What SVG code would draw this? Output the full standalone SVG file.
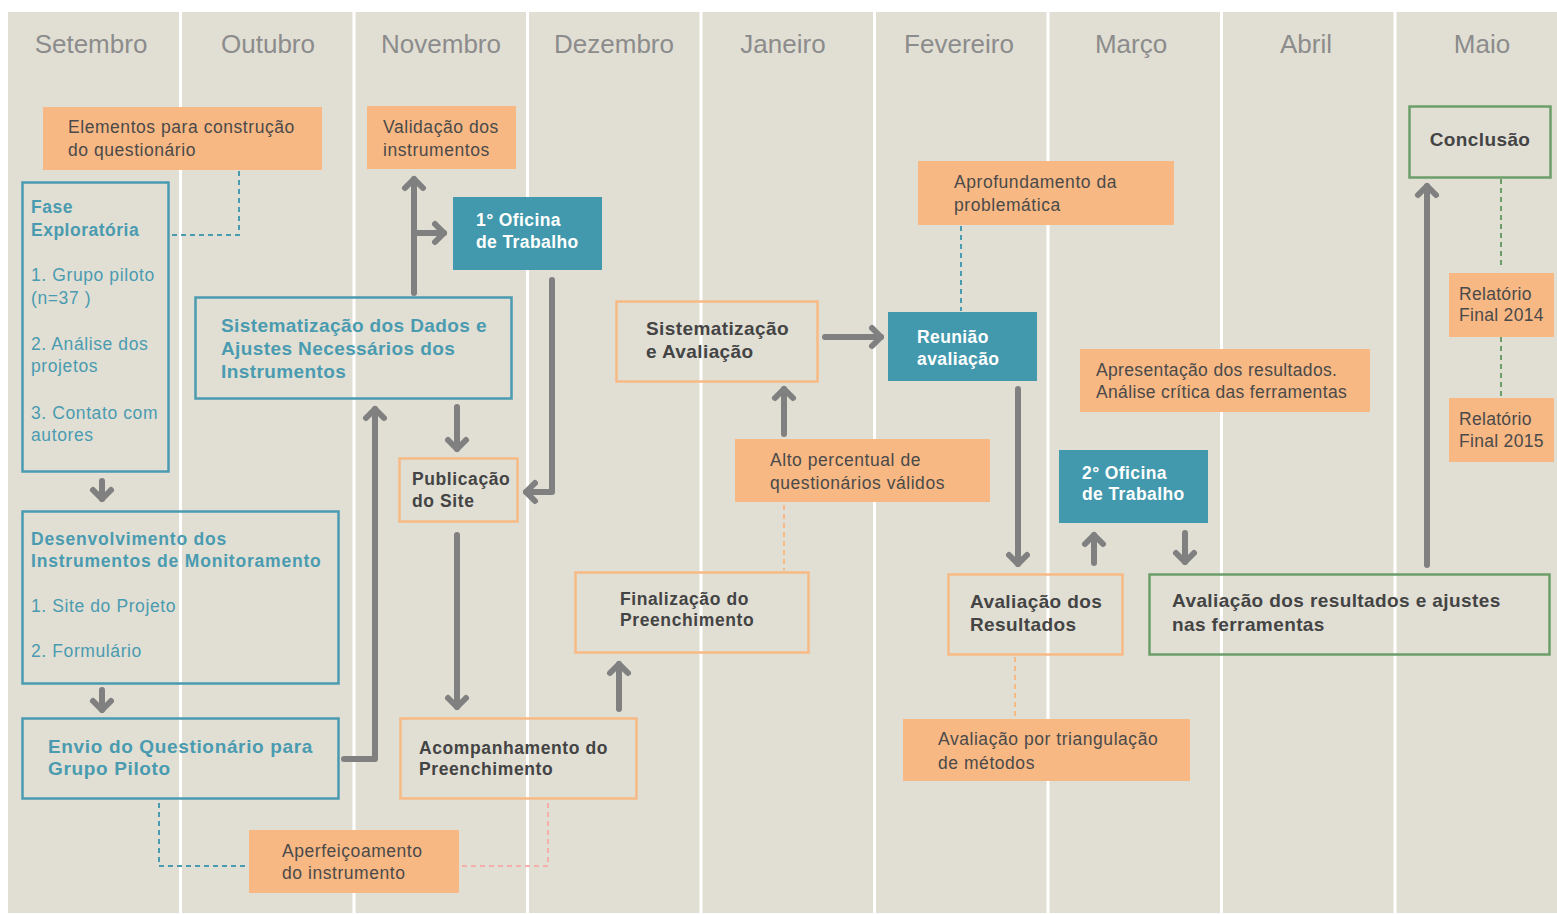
<svg xmlns="http://www.w3.org/2000/svg" width="1557" height="914" viewBox="0 0 1557 914">
<defs>
<style>
.bg{fill:#E1DFD4}
.sep{stroke:#FFFFFF;stroke-width:3}
.month{font-family:"Liberation Sans",Arial,sans-serif;font-size:26px;fill:#8C8C8C}
.ofill{fill:#F8B884}
.oline{fill:none;stroke:#F7BA85;stroke-width:2.5}
.tline{fill:none;stroke:#4A9BB0;stroke-width:2.5}
.gline{fill:none;stroke:#6B9E69;stroke-width:2.5}
.tfill{fill:#4299AD}
.reg{font-family:"Liberation Sans",Arial,sans-serif;font-size:17.5px;fill:#4A4A4A;letter-spacing:0.55px}
.regt{font-family:"Liberation Sans",Arial,sans-serif;font-size:17.5px;fill:#4A9BB0;letter-spacing:0.6px}
.bt{font-family:"Liberation Sans",Arial,sans-serif;font-size:17.5px;font-weight:bold;fill:#4A9BB0;letter-spacing:0.5px}
.bd{font-family:"Liberation Sans",Arial,sans-serif;font-size:17.5px;font-weight:bold;fill:#444444;letter-spacing:0.6px}
.bw{font-family:"Liberation Sans",Arial,sans-serif;font-size:17.5px;font-weight:bold;fill:#FFFFFF;letter-spacing:0.4px}
.big{font-size:19px;letter-spacing:0.4px}
.arr{fill:none;stroke:#808080;stroke-width:6;stroke-linecap:round;stroke-linejoin:round;marker-end:url(#chev)}
.dt{fill:none;stroke:#4A9BB0;stroke-width:2;stroke-dasharray:5 4}
.dor{fill:none;stroke:#F7BA85;stroke-width:2;stroke-dasharray:5 4}
.dpk{fill:none;stroke:#F5AFA8;stroke-width:2;stroke-dasharray:5 4}
.dg{fill:none;stroke:#6B9E69;stroke-width:2;stroke-dasharray:5 4}
</style>
<marker id="chev" markerUnits="userSpaceOnUse" viewBox="-16 -14 20 28" refX="0" refY="0" markerWidth="20" markerHeight="28" orient="auto" overflow="visible">
<path d="M-9,-9 L0,0 L-9,9" fill="none" stroke="#808080" stroke-width="6" stroke-linecap="round" stroke-linejoin="round"/>
</marker>
</defs>
<rect x="0" y="0" width="1557" height="914" fill="#FFFFFF"/>
<rect class="bg" x="8" y="12" width="1549" height="901"/>
<g id="separators">
<line class="sep" x1="180.5" y1="12" x2="180.5" y2="913"/>
<line class="sep" x1="354" y1="12" x2="354" y2="913"/>
<line class="sep" x1="527.5" y1="12" x2="527.5" y2="913"/>
<line class="sep" x1="701" y1="12" x2="701" y2="913"/>
<line class="sep" x1="874.5" y1="12" x2="874.5" y2="913"/>
<line class="sep" x1="1048" y1="12" x2="1048" y2="913"/>
<line class="sep" x1="1221.5" y1="12" x2="1221.5" y2="913"/>
<line class="sep" x1="1395" y1="12" x2="1395" y2="913"/>
</g>
<g id="months" text-anchor="middle">
<text class="month" x="91" y="53">Setembro</text>
<text class="month" x="268" y="53">Outubro</text>
<text class="month" x="441" y="53">Novembro</text>
<text class="month" x="614" y="53">Dezembro</text>
<text class="month" x="783" y="53">Janeiro</text>
<text class="month" x="959" y="53">Fevereiro</text>
<text class="month" x="1131" y="53">Março</text>
<text class="month" x="1306" y="53">Abril</text>
<text class="month" x="1482" y="53">Maio</text>
</g>
<g id="connectors">
<path class="dt" d="M239,171 V235 H169"/>
<path class="dt" d="M159,803 V866 H246"/>
<path class="dpk" d="M462,866 H548 V803"/>
<path class="dt" d="M961,226 V311"/>
<path class="dor" d="M784,505 V570"/>
<path class="dor" d="M1015,657 V717"/>
<path class="dg" d="M1501,179 V265"/>
<path class="dg" d="M1501,337 V398"/>
<path class="arr" d="M414,293 V179"/>
<path class="arr" d="M414,233 H444"/>
<path class="arr" d="M457,407 V449"/>
<path class="arr" d="M552,280 V492 H526"/>
<path class="arr" d="M102,481 V499"/>
<path class="arr" d="M102,690 V710"/>
<path class="arr" d="M344,759 H375 V409"/>
<path class="arr" d="M457,535 V707"/>
<path class="arr" d="M619,709 V664"/>
<path class="arr" d="M825,337 H881"/>
<path class="arr" d="M784,434 V389"/>
<path class="arr" d="M1018,389 V564"/>
<path class="arr" d="M1094,563 V535"/>
<path class="arr" d="M1185,533 V562"/>
<path class="arr" d="M1427,565 V186"/>
</g>
<g id="n-elementos">
<rect class="ofill" x="43" y="107" width="279" height="63"/>
<text class="reg" x="68" y="133">Elementos para construção</text>
<text class="reg" x="68" y="156">do questionário</text>
</g>
<g id="n-validacao">
<rect class="ofill" x="367" y="106" width="149" height="63"/>
<text class="reg" x="383" y="133">Validação dos</text>
<text class="reg" x="383" y="156">instrumentos</text>
</g>
<g id="n-fase">
<rect class="tline" x="22.5" y="182.5" width="146" height="289"/>
<text class="bt" x="31" y="213">Fase</text>
<text class="bt" x="31" y="236">Exploratória</text>
<text class="regt" x="31" y="281">1. Grupo piloto</text>
<text class="regt" x="31" y="304">(n=37 )</text>
<text class="regt" x="31" y="350">2. Análise dos</text>
<text class="regt" x="31" y="372">projetos</text>
<text class="regt" x="31" y="419">3. Contato com</text>
<text class="regt" x="31" y="441">autores</text>
</g>
<g id="n-oficina1">
<rect class="tfill" x="453" y="197" width="149" height="73"/>
<text class="bw" x="476" y="226">1° Oficina</text>
<text class="bw" x="476" y="248">de Trabalho</text>
</g>
<g id="n-sistdados">
<rect class="tline" x="195.5" y="297.5" width="316" height="101"/>
<text class="bt big" x="221" y="332">Sistematização dos Dados e</text>
<text class="bt big" x="221" y="355">Ajustes Necessários dos</text>
<text class="bt big" x="221" y="378">Instrumentos</text>
</g>
<g id="n-publicacao">
<rect class="oline" x="399.5" y="458.5" width="118" height="63"/>
<text class="bd" x="412" y="485">Publicação</text>
<text class="bd" x="412" y="507">do Site</text>
</g>
<g id="n-desenvolvimento">
<rect class="tline" x="22.5" y="511.5" width="316" height="172"/>
<text class="bt" x="31" y="545" style="letter-spacing:0.8px">Desenvolvimento dos</text>
<text class="bt" x="31" y="567" style="letter-spacing:0.8px">Instrumentos de Monitoramento</text>
<text class="regt" x="31" y="612">1. Site do Projeto</text>
<text class="regt" x="31" y="657">2. Formulário</text>
</g>
<g id="n-envio">
<rect class="tline" x="22.5" y="718.5" width="316" height="80"/>
<text class="bt big" x="48" y="753" style="letter-spacing:0.65px">Envio do Questionário para</text>
<text class="bt big" x="48" y="775" style="letter-spacing:0.65px">Grupo Piloto</text>
</g>
<g id="n-acompanhamento">
<rect class="oline" x="400.5" y="718.5" width="236" height="80"/>
<text class="bd" x="419" y="754">Acompanhamento do</text>
<text class="bd" x="419" y="775">Preenchimento</text>
</g>
<g id="n-finalizacao">
<rect class="oline" x="575.5" y="572.5" width="233" height="80"/>
<text class="bd" x="620" y="605">Finalização do</text>
<text class="bd" x="620" y="626">Preenchimento</text>
</g>
<g id="n-aperfeicoamento">
<rect class="ofill" x="249" y="830" width="210" height="63"/>
<text class="reg" x="282" y="857">Aperfeiçoamento</text>
<text class="reg" x="282" y="879">do instrumento</text>
</g>
<g id="n-sistaval">
<rect class="oline" x="616.5" y="301.5" width="201" height="80"/>
<text class="bd big" x="646" y="335">Sistematização</text>
<text class="bd big" x="646" y="358">e Avaliação</text>
</g>
<g id="n-aprofundamento">
<rect class="ofill" x="918" y="161" width="256" height="64"/>
<text class="reg" x="954" y="188">Aprofundamento da</text>
<text class="reg" x="954" y="211">problemática</text>
</g>
<g id="n-reuniao">
<rect class="tfill" x="888" y="312" width="149" height="69"/>
<text class="bw" x="917" y="343">Reunião</text>
<text class="bw" x="917" y="365">avaliação</text>
</g>
<g id="n-alto">
<rect class="ofill" x="735" y="439" width="255" height="63"/>
<text class="reg" x="770" y="466">Alto percentual de</text>
<text class="reg" x="770" y="489">questionários válidos</text>
</g>
<g id="n-avalres">
<rect class="oline" x="948.5" y="574.5" width="174" height="80"/>
<text class="bd big" x="970" y="608">Avaliação dos</text>
<text class="bd big" x="970" y="631">Resultados</text>
</g>
<g id="n-triangulacao">
<rect class="ofill" x="903" y="719" width="287" height="62"/>
<text class="reg" x="938" y="745">Avaliação por triangulação</text>
<text class="reg" x="938" y="769">de métodos</text>
</g>
<g id="n-oficina2">
<rect class="tfill" x="1059" y="450" width="149" height="73"/>
<text class="bw" x="1082" y="479">2° Oficina</text>
<text class="bw" x="1082" y="500">de Trabalho</text>
</g>
<g id="n-avalajustes">
<rect class="gline" x="1149.5" y="574.5" width="400" height="80"/>
<text class="bd big" x="1172" y="607">Avaliação dos resultados e ajustes</text>
<text class="bd big" x="1172" y="631">nas ferramentas</text>
</g>
<g id="n-apresentacao">
<rect class="ofill" x="1080" y="349" width="290" height="63"/>
<text class="reg" x="1096" y="376" style="letter-spacing:0.35px">Apresentação dos resultados.</text>
<text class="reg" x="1096" y="398" style="letter-spacing:0.35px">Análise crítica das ferramentas</text>
</g>
<g id="n-conclusao">
<rect class="gline" x="1409.5" y="106.5" width="141" height="71"/>
<text class="bd big" x="1480" y="146" text-anchor="middle">Conclusão</text>
</g>
<g id="n-rel2014">
<rect class="ofill" x="1449" y="273" width="105" height="64"/>
<text class="reg" x="1459" y="300" style="letter-spacing:0.3px">Relatório</text>
<text class="reg" x="1459" y="321" style="letter-spacing:0.3px">Final 2014</text>
</g>
<g id="n-rel2015">
<rect class="ofill" x="1449" y="398" width="105" height="64"/>
<text class="reg" x="1459" y="425" style="letter-spacing:0.3px">Relatório</text>
<text class="reg" x="1459" y="447" style="letter-spacing:0.3px">Final 2015</text>
</g>
</svg>
